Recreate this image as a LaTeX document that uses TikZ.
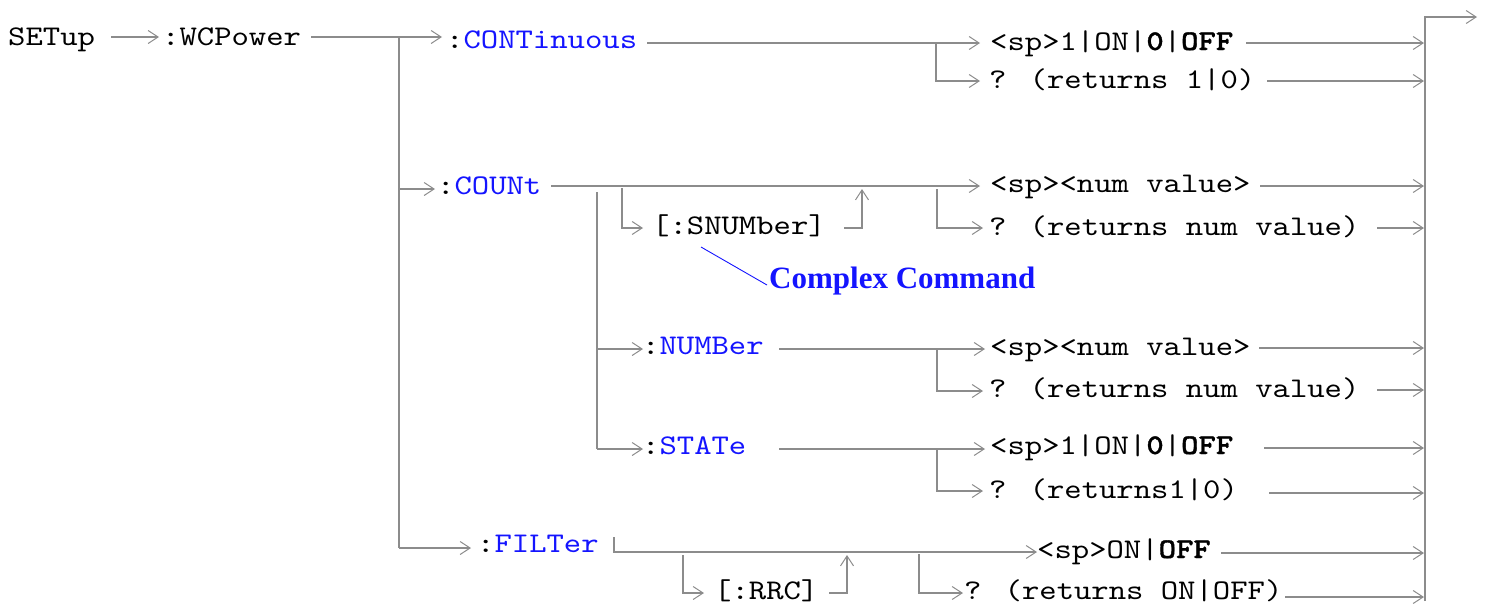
\documentclass[tikz,border=0pt]{standalone}
\usepackage{fontspec}
\setmainfont{Liberation Serif}
\newfontfamily\cmdfont{lmmono10-regular.otf}[BoldFont=lmmonolt10-bold.otf,BoldFeatures={FakeBold=1.2},FakeStretch=1.16]
\usetikzlibrary{arrows.meta}
\definecolor{lg}{RGB}{140,140,140}
\definecolor{cb}{RGB}{20,20,255}
\begin{document}
\begin{tikzpicture}[x=1pt,y=-1pt,
  ln/.style={draw=lg,line width=1.3pt},
  arr/.style={ln,-{Straight Barb[length=10pt,width=13pt,line width=1pt]}},
  tx/.style={anchor=base west,inner sep=0pt,font=\fontsize{28.5}{34}\selectfont\cmdfont},
  note/.style={anchor=west,inner sep=0pt,text=cb,font=\fontsize{31}{34}\selectfont\rmfamily\bfseries}]
\useasboundingbox (0,0) rectangle (1487,603);
% ---- text nodes
\node[tx] (setup) at (8,45) {SETup};
\node[tx] (wcp) at (162,45) {:WCPower};
\node[tx] (cont) at (446,48) {:\textcolor{cb}{CONTinuous}};
\node[tx] (count) at (437,194) {:\textcolor{cb}{COUNt}};
\node[tx] (snum) at (652,234) {[:SNUMber]};
\node[tx] (number) at (642,354) {:\textcolor{cb}{NUMBer}};
\node[tx] (state) at (642,454) {:\textcolor{cb}{STATe}};
\node[tx] (filter) at (477,552) {:\textcolor{cb}{FILTer}};
\node[tx] (rrc) at (714,599) {[:RRC]};
\node[tx] (contsp) at (990,50) {<sp>1|ON|\textbf{0}|\textbf{OFF}};
\node[tx] (contq) at (989,88) {? (returns 1|0)};
\node[tx] (cntsp) at (990,192) {<sp><num value>};
\node[tx] (cntq) at (989,235) {? (returns num value)};
\node[tx] (numsp) at (990,355) {<sp><num value>};
\node[tx] (numq) at (989,397) {? (returns num value)};
\node[tx] (stsp) at (990,454) {<sp>1|ON|\textbf{0}|\textbf{OFF}};
\node[tx] (stq) at (989,498) {? (returns1|0)};
\node[tx] (fsp) at (1037,558) {<sp>ON|\textbf{OFF}};
\node[tx] (fq) at (964,599) {? (returns ON|OFF)};
\node[note] (cc) at (769,281) {Complex Command};
% ---- coordinates
\coordinate (a1) at (111,37); \coordinate (a2) at (159,37);
\coordinate (b1) at (311,37); \coordinate (bartop) at (399,37); \coordinate (b2) at (442,37);
\coordinate (barC) at (399,189); \coordinate (b3) at (435,189);
\coordinate (barF) at (399,548); \coordinate (b4) at (471,548);
% CONTinuous
\coordinate (c1) at (647,43); \coordinate (c2) at (980,43);
\coordinate (cj) at (936,43); \coordinate (cr) at (936,81); \coordinate (c3) at (980,81);
\coordinate (c4) at (1246,43); \coordinate (e1) at (1424,43);
\coordinate (c5) at (1267,81); \coordinate (e2) at (1424,81);
% COUNt
\coordinate (d1) at (551,186); \coordinate (d2) at (980,186);
\coordinate (sb1) at (597,192); \coordinate (sb2) at (597,449);
\coordinate (sn1) at (622,188); \coordinate (sn2) at (622,228); \coordinate (sn3) at (643,228);
\coordinate (sn4) at (844,228); \coordinate (sn5) at (862,228); \coordinate (sn6) at (862,189);
\coordinate (dj) at (937,189); \coordinate (dr) at (937,228); \coordinate (d3) at (983,228);
\coordinate (d4) at (1260,186); \coordinate (e3) at (1424,186);
\coordinate (d5) at (1377,228); \coordinate (e4) at (1424,228);
% NUMBer
\coordinate (n0) at (597,349); \coordinate (n1) at (643,349);
\coordinate (n2) at (779,349); \coordinate (n3) at (985,349);
\coordinate (nj) at (937,349); \coordinate (nr) at (937,391); \coordinate (n4) at (983,391);
\coordinate (n5) at (1259,348); \coordinate (e5) at (1424,348);
\coordinate (n6) at (1377,390); \coordinate (e6) at (1424,390);
% STATe
\coordinate (s1) at (643,449);
\coordinate (s2) at (779,449); \coordinate (s3) at (985,449);
\coordinate (sj) at (937,449); \coordinate (sr) at (937,491); \coordinate (s4) at (983,491);
\coordinate (s5) at (1264,448); \coordinate (e7) at (1424,448);
\coordinate (s6) at (1269,493); \coordinate (e8) at (1424,493);
% FILTer
\coordinate (f1) at (614,537); \coordinate (f2) at (614,552); \coordinate (f3) at (1037,552);
\coordinate (fr1) at (683,555); \coordinate (fr2) at (683,593); \coordinate (fr3) at (704,593);
\coordinate (fr4) at (829,593); \coordinate (fr5) at (847,593); \coordinate (fr6) at (847,555);
\coordinate (fq1) at (919,554); \coordinate (fq2) at (919,593); \coordinate (fq3) at (963,593);
\coordinate (f5) at (1221,553); \coordinate (e9) at (1424,553);
\coordinate (f6) at (1285,597); \coordinate (e10) at (1424,597);
% right bar
\coordinate (rb1) at (1425,601); \coordinate (rb2) at (1425,17); \coordinate (rb3) at (1477,17);
% Complex command pointer
\coordinate (cc1) at (701,247); \coordinate (cc2) at (767,285);
% ---- connectors
\draw[arr] (a1) -- (a2);
\draw[arr] (b1) -- (b2);
\draw[ln] (bartop) -- (barF);
\draw[arr] (barC) -- (b3);
\draw[arr] (barF) -- (b4);
% CONTinuous
\draw[arr] (c1) -- (c2);
\draw[arr] (cj) -- (cr) -- (c3);
\draw[arr] (c4) -- (e1);
\draw[arr] (c5) -- (e2);
% COUNt
\draw[arr] (d1) -- (d2);
\draw[ln] (sb1) -- (sb2);
\draw[arr] (sn1) -- (sn2) -- (sn3);
\draw[arr] (sn4) -- (sn5) -- (sn6);
\draw[arr] (dj) -- (dr) -- (d3);
\draw[arr] (d4) -- (e3);
\draw[arr] (d5) -- (e4);
% NUMBer
\draw[arr] (n0) -- (n1);
\draw[arr] (n2) -- (n3);
\draw[arr] (nj) -- (nr) -- (n4);
\draw[arr] (n5) -- (e5);
\draw[arr] (n6) -- (e6);
% STATe
\draw[arr] (sb2) -- (s1);
\draw[arr] (s2) -- (s3);
\draw[arr] (sj) -- (sr) -- (s4);
\draw[arr] (s5) -- (e7);
\draw[arr] (s6) -- (e8);
% FILTer
\draw[arr] (f1) -- (f2) -- (f3);
\draw[arr] (fr1) -- (fr2) -- (fr3);
\draw[arr] (fr4) -- (fr5) -- (fr6);
\draw[arr] (fq1) -- (fq2) -- (fq3);
\draw[arr] (f5) -- (e9);
\draw[arr] (f6) -- (e10);
% exit bar
\draw[arr] (rb1) -- (rb2) -- (rb3);
% note
\draw[cb,line width=0.9pt] (cc1) -- (cc2);
\end{tikzpicture}
\end{document}
